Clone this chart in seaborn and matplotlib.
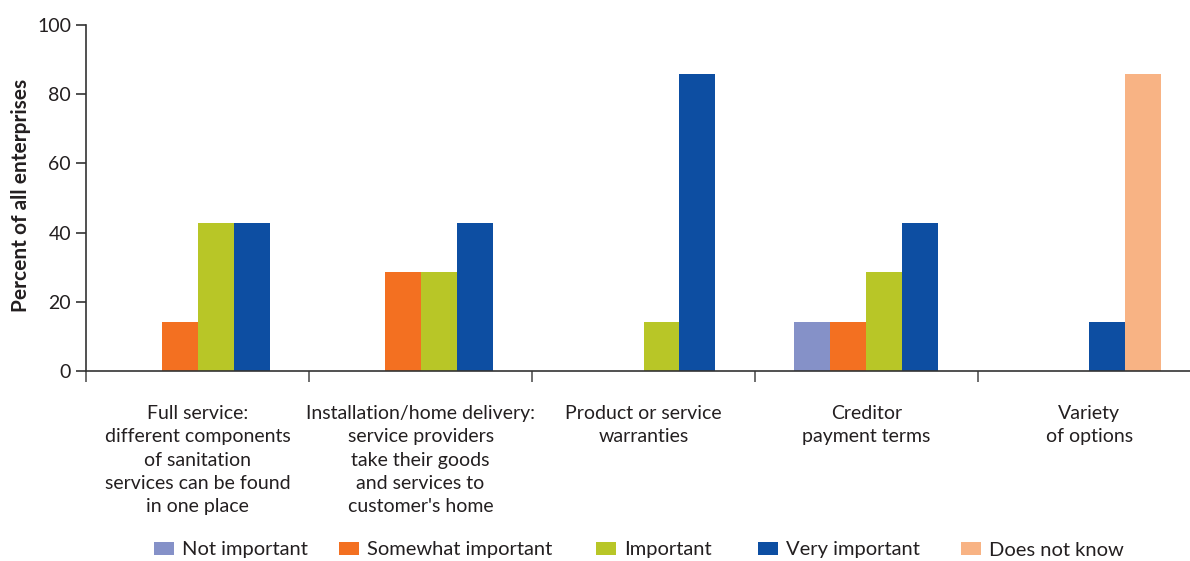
import numpy as np
import pandas as pd
import matplotlib
matplotlib.use("Agg")
import matplotlib.pyplot as plt
import seaborn as sns

# Survey data: share of enterprises rating each service feature
categories = [
    "Full service:\ndifferent components\nof sanitation\nservices can be found\nin one place",
    "Installation/home delivery:\nservice providers\ntake their goods\nand services to\ncustomer's home",
    "Product or service\nwarranties",
    "Creditor\npayment terms",
    "Variety\nof options",
]
ratings = ["Not important", "Somewhat important", "Important", "Very important", "Does not know"]
not_important = [0.0, 0.0, 0.0, 14.3, 0.0]
somewhat_important = [14.3, 28.6, 0.0, 14.3, 0.0]
important = [42.9, 28.6, 14.3, 28.6, 0.0]
very_important = [42.9, 42.9, 85.7, 42.9, 14.3]
does_not_know = [0.0, 0.0, 0.0, 0.0, 85.7]
y_ticks = [0, 20, 40, 60, 80, 100]

series = dict(zip(ratings, [not_important, somewhat_important, important,
                            very_important, does_not_know]))
colors = ["#8591C8", "#F37021", "#B8C627", "#0D4EA2", "#F8B384"]
text_color = "#231F20"

# Each category has four bar slots; non-zero bars fill them from the right
N_SLOTS = 4
SLOT_W = 36 / 223
rows = []
for i, cat in enumerate(categories):
    present = [(r, series[r][i]) for r in ratings if series[r][i] > 0]
    first = N_SLOTS - len(present)
    for j, (r, v) in enumerate(present):
        pos = i + (first + j - (N_SLOTS - 1) / 2) * SLOT_W
        rows.append({"pos": pos, "rating": r, "value": v})
df = pd.DataFrame(rows)

sns.set_theme(style="white")
plt.rcParams["font.family"] = ["Lato", "DejaVu Sans"]
plt.rcParams["text.color"] = text_color

W, H = 1190, 561
fig = plt.figure(figsize=(W / 100, H / 100), dpi=100)
ax = fig.add_axes([86.3 / W, 189.7 / H, 1114.4 / W, 346.6 / H])

sns.barplot(data=df, x="pos", y="value", hue="rating", hue_order=ratings,
            palette=colors, native_scale=True, dodge=False, width=1.0,
            orient="x", saturation=1, linewidth=0, errorbar=None, ax=ax)

fs = 14
ax.set_xlim(-0.5, len(categories) - 0.5)
ax.set_ylim(0, 100)
ax.set_yticks(y_ticks)
ax.set_yticklabels([str(t) for t in y_ticks], fontsize=fs, color=text_color)
ax.set_xticks(np.arange(-0.5, len(categories)), labels=[])
ax.set_xticks(np.arange(len(categories)), labels=categories, minor=True)
ax.tick_params(axis="x", which="major", length=8, width=1.2, color="#555555",
               direction="out", bottom=True)
ax.tick_params(axis="x", which="minor", length=0, pad=24, labelsize=fs,
               labelcolor=text_color)
ax.tick_params(axis="y", length=7, width=1.2, color="#333333", direction="out",
               left=True, pad=4)
for lbl in ax.get_xticklabels(minor=True):
    lbl.set_linespacing(1.46)

ax.set_xlabel("")
ax.set_ylabel("Percent of all enterprises", fontsize=15, fontweight="bold",
              color=text_color, va="center")
ax.yaxis.set_label_coords(-0.0585, 0.506)

for side in ["top", "right"]:
    ax.spines[side].set_visible(False)
for side in ["left", "bottom"]:
    ax.spines[side].set_color("#333333")
    ax.spines[side].set_linewidth(1.2)

# One legend entry per rating, laid out along the bottom of the figure
handles, labels = ax.get_legend_handles_labels()
ax.get_legend().remove()
entry_left = [154, 339, 596, 758, 961]
for h, l, x in zip(handles, labels, entry_left):
    fig.legend([h], [l], loc="center left", bbox_to_anchor=(x / W, 11 / H),
               frameon=False, fontsize=14.5, handlelength=1.0,
               handleheight=0.65, handletextpad=0.4, borderpad=0,
               borderaxespad=0)

fig.savefig("out.png", dpi=100)
